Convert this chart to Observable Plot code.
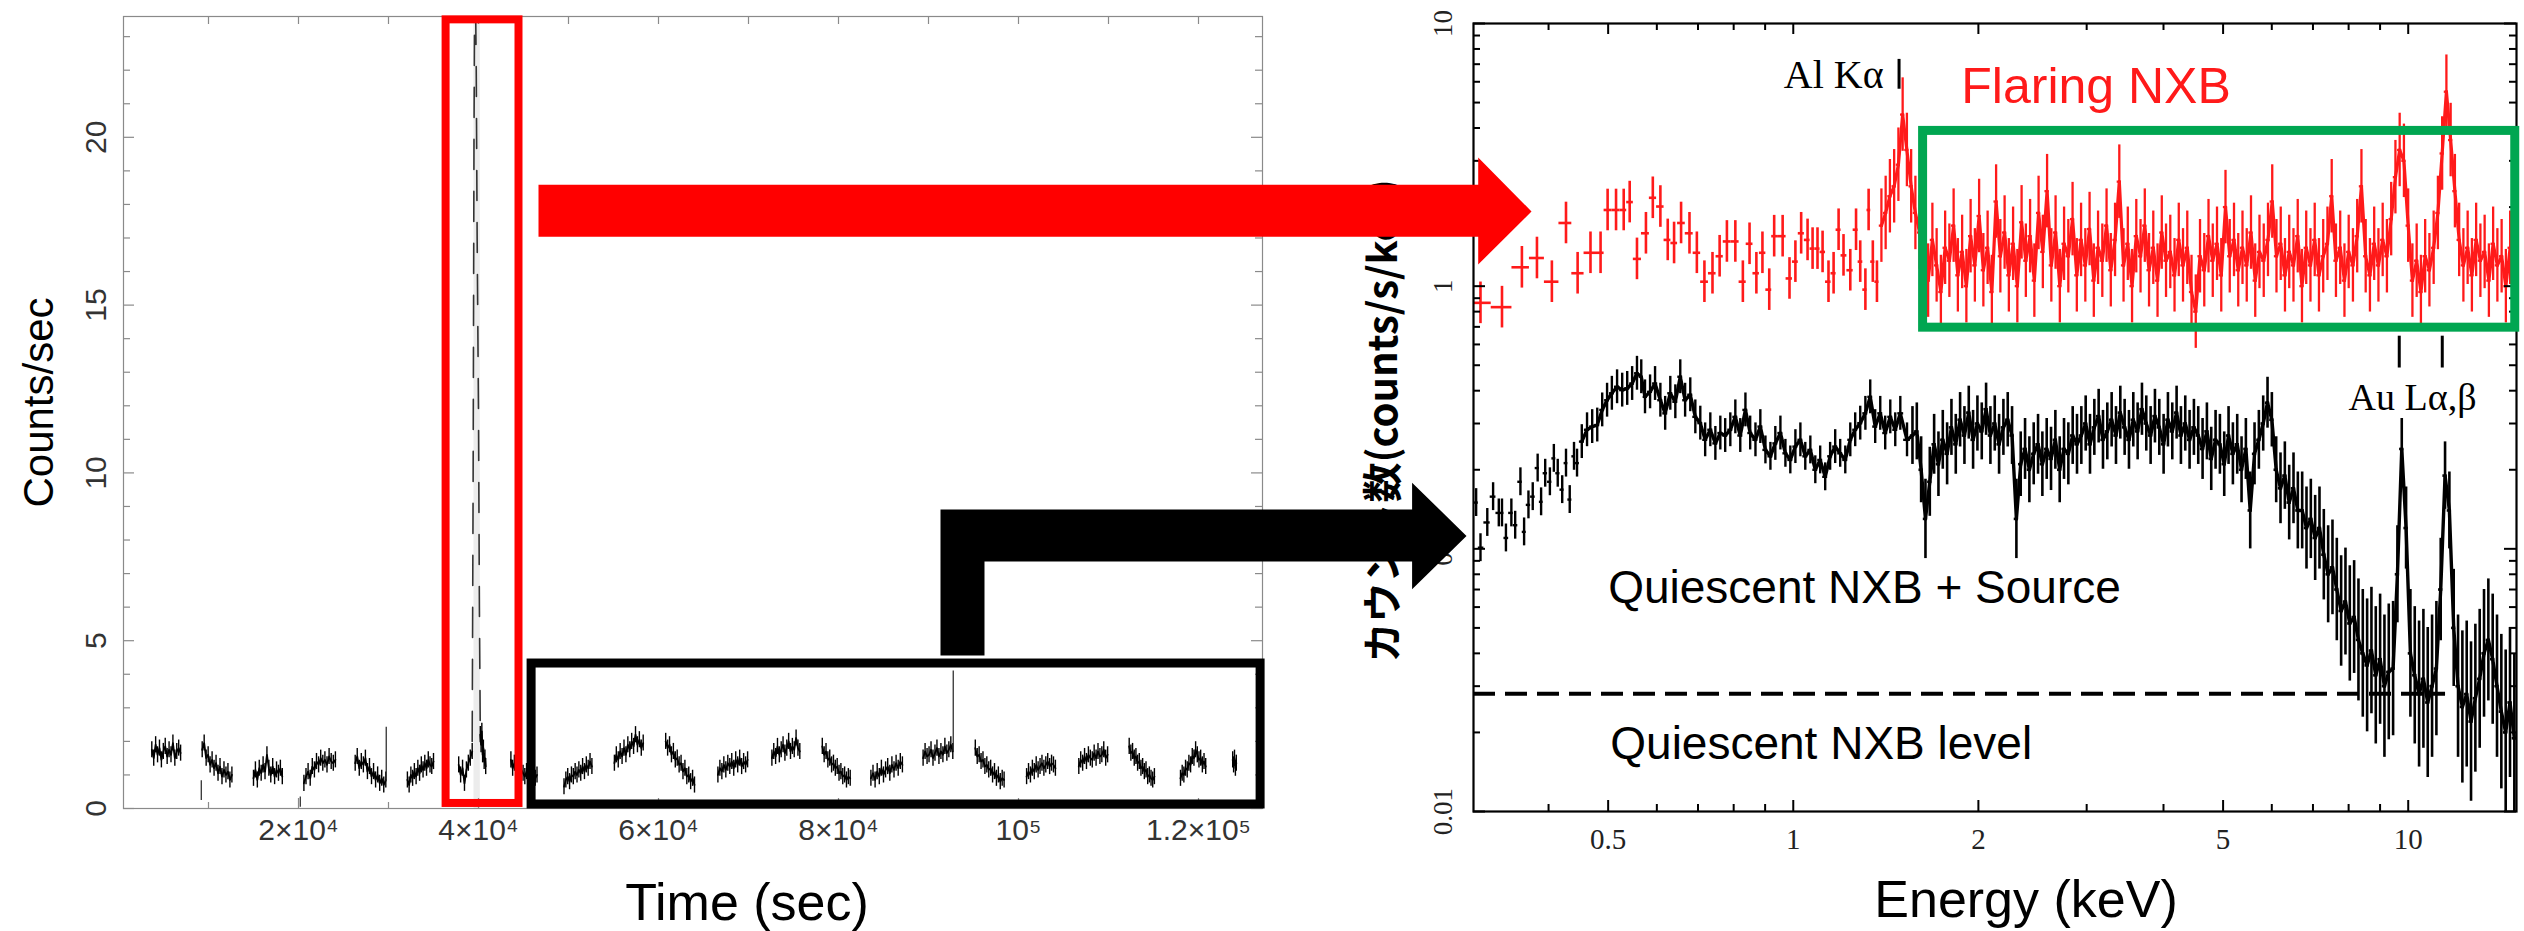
<!DOCTYPE html>
<html><head><meta charset="utf-8">
<script src="https://cdn.jsdelivr.net/npm/d3@7"></script>
<script src="https://cdn.jsdelivr.net/npm/@observablehq/plot@0.6"></script>
<style>
html,body{margin:0;padding:0;background:#fff;}
#wrap{position:relative;width:2524px;height:931px;overflow:hidden;background:#fff;}
#right{position:absolute;left:1290px;top:0;z-index:1;}
#left{position:absolute;left:0;top:0;z-index:2;}
#wrap svg{overflow:visible;}
</style></head><body>
<div id="wrap"><div id="right"></div><div id="left"></div></div>
<script>
// ================= DATA =================
// ---- Left panel: light curve (Counts/sec vs Time)
const lcXDomain = [556, 127111];
const lcYDomain = [0, 23.6];
const lcXTicks = [20000, 40000, 60000, 80000, 100000, 120000];
const lcXTickLabels = ["2×10⁴", "4×10⁴", "6×10⁴", "8×10⁴", "10⁵", "1.2×10⁵"];
const lcXMinor = [10000, 30000, 50000, 70000, 90000, 110000];
const lcYTicks = [0, 5, 10, 15, 20];
const lcYMinor = [1,2,3,4,6,7,8,9,11,12,13,14,16,17,18,19,21,22,23];

const lcSegStart = [3700, 9300, 15000, 20600, 26300, 32100, 37800, 40200, 43600, 49500, 55100, 60800, 66600, 72600, 78200, 83600, 89400, 95200, 100900, 106700, 112300, 118000, 123800];
const lcSegEnd   = [6900, 12600, 18200, 24100, 29700, 35000, 39300, 40800, 46500, 52600, 58300, 64000, 69900, 75700, 81300, 87100, 92700, 98400, 104100, 109900, 115100, 120800, 124200];
const lcSegValues = [
  [1.75,1.5,1.9,1.6,1.8,1.45,1.7,1.85,1.55,1.75,1.6,1.95,1.5,1.7,1.8,1.65],
  [1.75,1.95,1.5,1.6,1.3,1.45,1.2,1.35,1.05,1.25,0.95,1.15,1.0,1.1,0.85,1.0],
  [0.9,1.15,0.85,1.2,1.05,1.3,1.1,1.6,1.2,1.0,1.25,0.95,1.15,1.05,1.2,0.95],
  [0.75,0.95,1.1,0.9,1.25,1.15,1.4,1.3,1.5,1.35,1.45,1.3,1.55,1.4,1.35,1.45],
  [1.35,1.55,1.2,1.4,1.3,1.5,1.1,1.25,0.95,1.1,0.85,1.0,0.75,0.9,0.7,0.85],
  [0.85,0.7,1.0,0.9,1.1,0.95,1.2,1.05,1.3,1.15,1.35,1.2,1.45,1.3,1.25,1.4],
  [1.3,1.0,1.2,0.75,1.15,1.35,1.5,1.7],
  [2.2,1.9,2.3,1.6,1.8,1.4,1.5,1.25],
  [1.45,1.2,1.35,1.1,1.3,1.0,1.15,1.05,0.95,1.1,0.9,1.0,0.85,0.95,0.9,1.0],
  [0.65,0.85,0.95,0.8,1.0,0.95,1.1,1.0,1.15,1.05,1.25,1.1,1.3,1.2,1.4,1.25],
  [1.35,1.6,1.45,1.7,1.55,1.8,1.6,1.9,1.75,2.0,1.85,2.2,1.9,2.05,1.8,1.95],
  [2.0,1.8,1.9,1.6,1.7,1.45,1.5,1.3,1.35,1.1,1.2,0.95,1.0,0.8,0.9,0.7],
  [1.0,1.2,1.1,1.3,1.15,1.35,1.25,1.4,1.2,1.45,1.3,1.5,1.25,1.4,1.3,1.45],
  [1.5,1.7,1.55,1.85,1.6,1.75,1.9,1.65,1.8,2.0,1.7,1.85,1.75,2.1,1.8,1.7],
  [1.85,1.6,1.7,1.45,1.5,1.3,1.35,1.2,1.25,1.05,1.1,0.95,1.0,0.85,0.95,0.9],
  [0.9,1.05,0.85,1.1,0.95,1.2,1.0,1.15,1.25,1.05,1.3,1.15,1.35,1.2,1.4,1.3],
  [1.5,1.7,1.55,1.6,1.75,1.5,1.65,1.8,1.55,1.7,1.6,1.85,1.65,1.75,1.9,1.7],
  [1.8,1.55,1.6,1.4,1.45,1.25,1.3,1.15,1.2,1.0,1.1,0.9,1.0,0.8,0.9,0.85],
  [0.95,1.1,1.0,1.2,1.1,1.3,1.15,1.25,1.35,1.2,1.3,1.4,1.25,1.35,1.3,1.2],
  [1.25,1.45,1.35,1.55,1.4,1.6,1.5,1.45,1.65,1.5,1.7,1.55,1.6,1.75,1.5,1.6],
  [1.85,1.65,1.7,1.5,1.55,1.35,1.4,1.2,1.25,1.1,1.15,0.95,1.0,0.9,0.85,0.95],
  [0.9,1.05,1.0,1.2,1.15,1.35,1.3,1.55,1.5,1.75,1.6,1.45,1.5,1.3,1.4,1.25],
  [1.45,1.3,1.5,1.2,1.35]
];
const lcErr = 0.24;
const glitchT  = [9200, 20200, 29750, 92750];
const glitchLo = [0.24, 0.04, 0.8, 1.7];
const glitchHi = [0.83, 0.34, 2.42, 4.1];
const flareT = [39300, 39400, 39500, 39600, 39750, 39850, 40000, 40100, 40200];
const flareV = [2.0, 9.5, 20, 26, 22, 17, 11.8, 6, 2.2];
const flareBandT = [39500, 40200];
const flareBoxT = [36400, 44500];
const flareBoxV = [0.15, 23.5];
const quietBoxT = [45900, 126900];
const quietBoxV = [0.12, 4.32];
const redArrowT   = [46667, 151078, 151078, 157000, 151078, 151078, 46667];
const redArrowV   = [18.59, 18.59, 19.40, 17.79, 16.21, 17.04, 17.04];
const blackArrowT = [91333, 91333, 143733, 143733, 149778, 143733, 143733, 96222, 96222];
const blackArrowV = [4.56, 8.91, 8.91, 9.71, 8.12, 6.53, 7.36, 7.36, 4.56];

// ---- Right panel: spectra (counts/s/keV vs Energy)
const specXDomain = [0.302, 15.0];
const specYDomain = [0.01, 10];
const specXTicks = [0.5, 1, 2, 5, 10];
const specXTickLabels = ["0.5", "1", "2", "5", "10"];
const specXMinor = [0.4,0.6,0.7,0.8,0.9,3,4,6,7,8,9];
const specYTicks = [0.01, 0.1, 1, 10];
const specYTickLabels = ["0.01", "0.1", "1", "10"];
const specYMinor = [0.02,0.03,0.04,0.05,0.06,0.07,0.08,0.09,0.2,0.3,0.4,0.5,0.6,0.7,0.8,0.9,2,3,4,5,6,7,8,9];

const redLoE = [0.310,0.336,0.362,0.383,0.405,0.427,0.446,0.468,0.486,0.499,0.515,0.530,0.542,0.557,0.576,0.591,0.608,0.625,0.640,0.657,0.678,0.697,0.717,0.739,0.759,0.780,0.805,0.828,0.849,0.871,0.891,0.914,0.931,0.961,0.986,1.008,1.030,1.055,1.075,1.095,1.116,1.141,1.163,1.185,1.207,1.238,1.265,1.285,1.310,1.326,1.347,1.368];
const redLoV = [0.864,0.832,1.18,1.28,1.04,1.74,1.12,1.34,1.34,1.95,1.95,1.95,2.09,1.27,1.59,2.17,2.01,1.50,1.46,1.74,1.59,1.34,1.04,1.12,1.30,1.48,1.48,1.04,1.45,1.12,1.34,0.97,1.55,1.55,1.07,1.24,1.59,1.50,1.39,1.39,1.35,1.04,1.12,1.64,1.31,1.15,1.64,1.24,0.97,1.95,1.24,1.04];
const redHiRange = [1.38, 15.0];
const redHiV = [
  1.7,1.9,2.2,2.4,2.9,4.5,3.3,2.4,1.9,1.6,
  1.3,1.05,1.5,1.2,0.95,1.4,1.25,1.7,1.1,1.35,
  1.0,1.55,1.2,1.85,1.15,1.4,0.95,2.1,1.3,1.6,
  1.1,1.45,1.0,1.75,1.25,1.55,1.05,1.9,1.35,2.3,
  1.2,1.6,1.0,1.45,1.3,1.8,1.1,1.5,1.2,1.65,
  1.05,1.4,1.25,1.7,1.15,1.5,2.5,1.2,1.45,1.0,
  1.55,1.3,1.7,1.15,1.4,1.05,1.6,1.25,1.35,1.1,
  1.5,1.2,1.4,0.95,0.8,1.3,1.15,1.55,1.25,1.45,
  1.1,2.0,1.3,1.5,1.15,1.4,1.2,1.6,1.05,1.35,
  1.25,1.5,2.1,1.3,1.45,1.1,1.35,1.2,1.55,1.0,
  1.4,1.2,1.5,1.1,1.3,1.45,2.2,1.25,1.4,1.05,
  1.35,1.2,1.55,2.4,1.3,1.1,1.45,1.2,1.5,1.3,
  1.8,2.6,3.3,3.0,1.7,1.05,1.25,0.95,1.3,1.15,
  1.4,1.9,3.2,5.5,3.6,2.3,1.5,1.2,1.4,1.1,
  1.5,1.25,1.35,1.05,1.45,1.2,1.3,1.0,1.4,1.25
];
const blackLoE = [0.305,0.310,0.318,0.325,0.332,0.336,0.341,0.348,0.353,0.360,0.365,0.371,0.377,0.384,0.389,0.395,0.402,0.408,0.414,0.421,0.427,0.433,0.440,0.445,0.453,0.462,0.471,0.480,0.489,0.498,0.507,0.517,0.527,0.537,0.547,0.557,0.566,0.574,0.585,0.596,0.608,0.619,0.631,0.643,0.655,0.667,0.680,0.693,0.706,0.719,0.733,0.747,0.761,0.775,0.790,0.805,0.820,0.836,0.851,0.868,0.884,0.901,0.918,0.935,0.953,0.971,0.989,1.008,1.027,1.046,1.066,1.086,1.106,1.127,1.148,1.170,1.192,1.215,1.238,1.261,1.285,1.310,1.334,1.359,1.385,1.411,1.438,1.465,1.493,1.531];
const blackLoV = [0.150,0.101,0.126,0.158,0.137,0.137,0.110,0.137,0.123,0.180,0.116,0.147,0.158,0.203,0.151,0.194,0.180,0.221,0.194,0.168,0.212,0.154,0.225,0.212,0.256,0.284,0.292,0.296,0.338,0.368,0.391,0.414,0.402,0.408,0.426,0.466,0.452,0.379,0.396,0.426,0.368,0.328,0.391,0.363,0.452,0.368,0.386,0.318,0.301,0.26,0.284,0.252,0.276,0.270,0.284,0.318,0.270,0.338,0.276,0.26,0.292,0.238,0.225,0.252,0.276,0.231,0.218,0.245,0.26,0.225,0.238,0.2,0.218,0.188,0.225,0.245,0.231,0.218,0.26,0.284,0.301,0.328,0.379,0.292,0.328,0.276,0.318,0.284,0.328,0.26];
const blackHiRange = [1.55, 15.0];
const blackHiV = [
  0.27,0.28,0.2,0.13,0.18,0.25,0.21,0.26,0.23,0.29,
  0.25,0.31,0.27,0.33,0.26,0.3,0.28,0.34,0.27,0.3,
  0.25,0.29,0.31,0.27,0.13,0.21,0.24,0.2,0.23,0.25,
  0.21,0.24,0.22,0.26,0.2,0.24,0.23,0.27,0.25,0.27,
  0.3,0.25,0.29,0.32,0.26,0.28,0.31,0.27,0.33,0.29,
  0.26,0.31,0.28,0.34,0.3,0.27,0.32,0.29,0.25,0.31,
  0.28,0.33,0.27,0.3,0.26,0.29,0.27,0.24,0.28,0.22,
  0.26,0.25,0.21,0.27,0.23,0.25,0.2,0.24,0.14,0.23,
  0.26,0.3,0.36,0.31,0.2,0.17,0.19,0.15,0.17,0.14,
  0.14,0.12,0.13,0.11,0.12,0.095,0.08,0.085,0.07,0.058,
  0.063,0.052,0.055,0.045,0.04,0.036,0.041,0.033,0.038,0.03,
  0.034,0.035,0.08,0.24,0.12,0.04,0.033,0.028,0.032,0.026,
  0.03,0.035,0.07,0.19,0.14,0.05,0.03,0.025,0.028,0.022,
  0.027,0.032,0.04,0.045,0.038,0.03,0.024,0.02,0.026,0.019
];
const nxbLevel = 0.0281;
const nxbLevelEnd = [0.302, 11.5];
const greenBoxE = [1.626, 14.93];
const greenBoxV = [0.695, 3.90];
const alKaE = 1.486;
const alKaV = [5.62, 7.3];
const auLE = [9.67, 11.36];
const auLV = [0.488, 0.645];

// ================= RENDER =================
const SANS = "'Liberation Sans', Arial, Helvetica, sans-serif";
const SERIF = "'Liberation Serif', 'Times New Roman', Times, serif";
const CJK = "'Noto Sans CJK JP', 'Noto Sans', sans-serif";

// ---- Left
const LW = 1290, LH = 931;
const LM = {left: 123, right: 28, top: 16, bottom: 123};
const lIW = LW - LM.left - LM.right, lIH = LH - LM.top - LM.bottom;

const lcPoints = [];
lcSegStart.forEach((s, k) => {
  const vals = lcSegValues[k], e = lcSegEnd[k], n = vals.length;
  vals.forEach((v, j) => lcPoints.push({seg: k, t: s + (e - s) * (n === 1 ? 0.5 : j / (n - 1)), v}));
});
const glitches = glitchT.map((t, i) => ({t, lo: glitchLo[i], hi: glitchHi[i]}));
const flare = flareT.map((t, i) => ({t, v: flareV[i]}));
const redArrow = redArrowT.map((t, i) => ({t, v: redArrowV[i]}));
const blackArrow = blackArrowT.map((t, i) => ({t, v: blackArrowV[i]}));
const lcXLab = lcXTicks.map((t, i) => ({t, label: lcXTickLabels[i]}));
const allTop = [...lcXTicks, ...lcXMinor];
const LGRAY = "#8a8a8a";

const leftPlot = Plot.plot({
  width: LW, height: LH,
  marginLeft: LM.left, marginRight: LM.right, marginTop: LM.top, marginBottom: LM.bottom,
  style: {background: "transparent", overflow: "visible", fontFamily: SANS},
  x: {type: "linear", domain: lcXDomain, axis: null},
  y: {type: "linear", domain: lcYDomain, axis: null},
  marks: [
    Plot.rect([flareBandT], {x1: d => d[0], x2: d => d[1], y1: lcYDomain[0], y2: lcYDomain[1], fill: "#ececec"}),
    Plot.frame({stroke: LGRAY, strokeWidth: 1.2}),
    Plot.tickX(lcXTicks, {x: d => d, insetTop: lIH - 10, stroke: LGRAY, strokeWidth: 1.2}),
    Plot.tickX(lcXMinor, {x: d => d, insetTop: lIH - 6, stroke: LGRAY, strokeWidth: 1.2}),
    Plot.tickX(allTop, {x: d => d, insetBottom: lIH - 8, stroke: LGRAY, strokeWidth: 1.2}),
    Plot.tickY(lcYTicks, {y: d => d, insetRight: lIW - 11, stroke: LGRAY, strokeWidth: 1.2}),
    Plot.tickY(lcYMinor, {y: d => d, insetRight: lIW - 7, stroke: LGRAY, strokeWidth: 1.2}),
    Plot.tickY(lcYTicks, {y: d => d, insetLeft: lIW - 11, stroke: LGRAY, strokeWidth: 1.2}),
    Plot.tickY(lcYMinor, {y: d => d, insetLeft: lIW - 7, stroke: LGRAY, strokeWidth: 1.2}),
    Plot.text(lcYTicks, {y: d => d, text: d => String(d), frameAnchor: "left", dx: -27, rotate: -90, textAnchor: "middle", lineAnchor: "middle", fontSize: 30, fill: "#333"}),
    Plot.text(lcXLab, {x: "t", text: "label", frameAnchor: "bottom", dy: 22, lineAnchor: "middle", fontSize: 30, fill: "#333"}),
    Plot.text(["Counts/sec"], {text: d => d, frameAnchor: "left", dx: -84, dy: -10, rotate: -90, textAnchor: "middle", lineAnchor: "middle", fontSize: 42, fill: "#000"}),
    Plot.text(["Time (sec)"], {text: d => d, frameAnchor: "bottom", dx: 54, dy: 95, lineAnchor: "middle", fontSize: 52, fill: "#000"}),
    // light curve
    Plot.ruleX(lcPoints, {x: "t", y1: d => d.v - lcErr, y2: d => d.v + lcErr, stroke: "#000", strokeWidth: 1.4}),
    Plot.line(lcPoints, {x: "t", y: "v", z: "seg", stroke: "#000", strokeWidth: 1.8}),
    Plot.ruleX(glitches, {x: "t", y1: "lo", y2: "hi", stroke: "#333", strokeWidth: 1.3}),
    Plot.line(flare, {x: "t", y: "v", stroke: "#333", strokeWidth: 1.6, strokeDasharray: "30,22", clip: true}),
    // annotation boxes
    Plot.rect([0], {x1: flareBoxT[0], x2: flareBoxT[1], y1: flareBoxV[0], y2: flareBoxV[1], fill: "none", stroke: "#ff0000", strokeWidth: 8}),
    Plot.rect([0], {x1: quietBoxT[0], x2: quietBoxT[1], y1: quietBoxV[0], y2: quietBoxV[1], fill: "none", stroke: "#000", strokeWidth: 9}),
    // arrows
    Plot.line(redArrow, {x: "t", y: "v", fill: "#ff0000", stroke: "none"}),
    Plot.line(blackArrow, {x: "t", y: "v", fill: "#000", stroke: "none"})
  ]
});
document.getElementById("left").appendChild(leftPlot);

// ---- Right
const RW = 1234, RH = 931;
const RM = {left: 183, right: 8, top: 23, bottom: 120};
const rIW = RW - RM.left - RM.right, rIH = RH - RM.top - RM.bottom;

function sparseBins(E, V) {
  const n = Math.min(E.length, V.length), out = [];
  for (let i = 0; i < n; i++) {
    const lo = i > 0 ? Math.sqrt(E[i - 1] * E[i]) : E[i] / Math.sqrt(E[i + 1] / E[i]);
    const hi = i < n - 1 ? Math.sqrt(E[i] * E[i + 1]) : E[i] * Math.sqrt(E[i] / E[i - 1]);
    out.push({E: E[i], v: V[i], lo, hi});
  }
  return out;
}
function gridBins(range, V) {
  const a = Math.log(range[0]), b = Math.log(range[1]), n = V.length, s = (b - a) / n;
  return V.map((v, i) => ({E: Math.exp(a + (i + 0.5) * s), v, lo: Math.exp(a + i * s), hi: Math.exp(a + (i + 1) * s)}));
}
// error-bar half-size: constant factor, or Poisson-like (larger where counts are lower)
const specMarks = (bins, color, f, w) => [
  Plot.ruleX(bins, {x: "E", y1: d => d.v / f(d.v), y2: d => d.v * f(d.v), stroke: color, strokeWidth: w, clip: true}),
  Plot.ruleY(bins, {y: "v", x1: "lo", x2: "hi", stroke: color, strokeWidth: w, clip: true})
];
const redLo = sparseBins(redLoE, redLoV);
const redHi = gridBins(redHiRange, redHiV);
const blackLo = sparseBins(blackLoE, blackLoV);
const blackHi = gridBins(blackHiRange, blackHiV);
const blackJoined = [...blackLo.filter(d => d.E >= 0.45), ...blackHi];
const sxLab = specXTicks.map((E, i) => ({E, label: specXTickLabels[i]}));
const syLab = specYTicks.map((v, i) => ({v, label: specYTickLabels[i]}));
const RED = "#ff1a1a";

const rightPlot = Plot.plot({
  width: RW, height: RH,
  marginLeft: RM.left, marginRight: RM.right, marginTop: RM.top, marginBottom: RM.bottom,
  style: {background: "transparent", overflow: "visible", fontFamily: SERIF},
  x: {type: "log", domain: specXDomain, axis: null},
  y: {type: "log", domain: specYDomain, axis: null},
  marks: [
    Plot.ruleY([nxbLevel], {x1: nxbLevelEnd[0], x2: nxbLevelEnd[1], stroke: "#000", strokeWidth: 4, strokeDasharray: "22,10"}),
    ...specMarks(blackLo, "#000", v => (v > 0.24 ? 1.16 : 1.13), 2.4),
    ...specMarks(blackHi, "#000", v => 1 + 0.15 / Math.sqrt(v), 2.6),
    Plot.line(blackJoined, {x: "E", y: "v", stroke: "#000", strokeWidth: 3.4, clip: true}),
    ...specMarks(redLo, RED, () => 1.2, 2.6),
    ...specMarks(redHi, RED, () => 1.38, 2.3),
    Plot.line(redHi, {x: "E", y: "v", stroke: RED, strokeWidth: 3.2, clip: true}),
    // ticks (inward)
    Plot.tickX(specXTicks, {x: d => d, insetTop: rIH - 11, stroke: "#000", strokeWidth: 2}),
    Plot.tickX(specXMinor, {x: d => d, insetTop: rIH - 7, stroke: "#000", strokeWidth: 2}),
    Plot.tickX(specXTicks, {x: d => d, insetBottom: rIH - 11, stroke: "#000", strokeWidth: 2}),
    Plot.tickX(specXMinor, {x: d => d, insetBottom: rIH - 7, stroke: "#000", strokeWidth: 2}),
    Plot.tickY(specYTicks, {y: d => d, insetRight: rIW - 12, stroke: "#000", strokeWidth: 2}),
    Plot.tickY(specYMinor, {y: d => d, insetRight: rIW - 7, stroke: "#000", strokeWidth: 2}),
    Plot.tickY(specYTicks, {y: d => d, insetLeft: rIW - 12, stroke: "#000", strokeWidth: 2}),
    Plot.tickY(specYMinor, {y: d => d, insetLeft: rIW - 7, stroke: "#000", strokeWidth: 2}),
    Plot.frame({stroke: "#000", strokeWidth: 2.2}),
    Plot.text(syLab, {y: "v", text: "label", frameAnchor: "left", dx: -30, rotate: -90, textAnchor: "middle", lineAnchor: "middle", fontSize: 27, fontFamily: SERIF, fill: "#222"}),
    Plot.text(sxLab, {x: "E", text: "label", frameAnchor: "bottom", dy: 28, lineAnchor: "middle", fontSize: 29, fontFamily: SERIF, fill: "#222"}),
    Plot.text(["Energy (keV)"], {text: d => d, frameAnchor: "bottom", dx: 31, dy: 89, lineAnchor: "middle", fontSize: 52, fontFamily: SANS, fill: "#000"}),
    Plot.text(["カウント数(counts/s/keV)"], {text: d => d, frameAnchor: "left", dx: -89, dy: 245, rotate: -90, textAnchor: "start", lineAnchor: "middle", fontSize: 40, fontWeight: "bold", fontFamily: CJK, fill: "#000"}),
    // annotations
    Plot.rect([0], {x1: greenBoxE[0], x2: greenBoxE[1], y1: greenBoxV[0], y2: greenBoxV[1], fill: "none", stroke: "#00a651", strokeWidth: 9}),
    Plot.ruleX([alKaE], {y1: alKaV[0], y2: alKaV[1], stroke: "#000", strokeWidth: 3}),
    Plot.ruleX(auLE, {x: d => d, y1: auLV[0], y2: auLV[1], stroke: "#000", strokeWidth: 3}),
    Plot.text(["Al Kα"], {text: d => d, x: 0.965, y: 6.37, textAnchor: "start", lineAnchor: "middle", fontSize: 40, fontFamily: SERIF, fill: "#000"}),
    Plot.text(["Au Lα,β"], {text: d => d, x: 8.0, y: 0.375, textAnchor: "start", lineAnchor: "middle", fontSize: 38, fontFamily: SERIF, fill: "#000"}),
    Plot.text(["Flaring NXB"], {text: d => d, x: 1.876, y: 5.74, textAnchor: "start", lineAnchor: "middle", fontSize: 50, fontFamily: SANS, fill: RED}),
    Plot.text(["Quiescent NXB + Source"], {text: d => d, x: 0.500, y: 0.0705, textAnchor: "start", lineAnchor: "middle", fontSize: 46, fontFamily: SANS, fill: "#000"}),
    Plot.text(["Quiescent NXB level"], {text: d => d, x: 0.504, y: 0.0181, textAnchor: "start", lineAnchor: "middle", fontSize: 46, fontFamily: SANS, fill: "#000"})
  ]
});
document.getElementById("right").appendChild(rightPlot);
</script>
</body></html>
